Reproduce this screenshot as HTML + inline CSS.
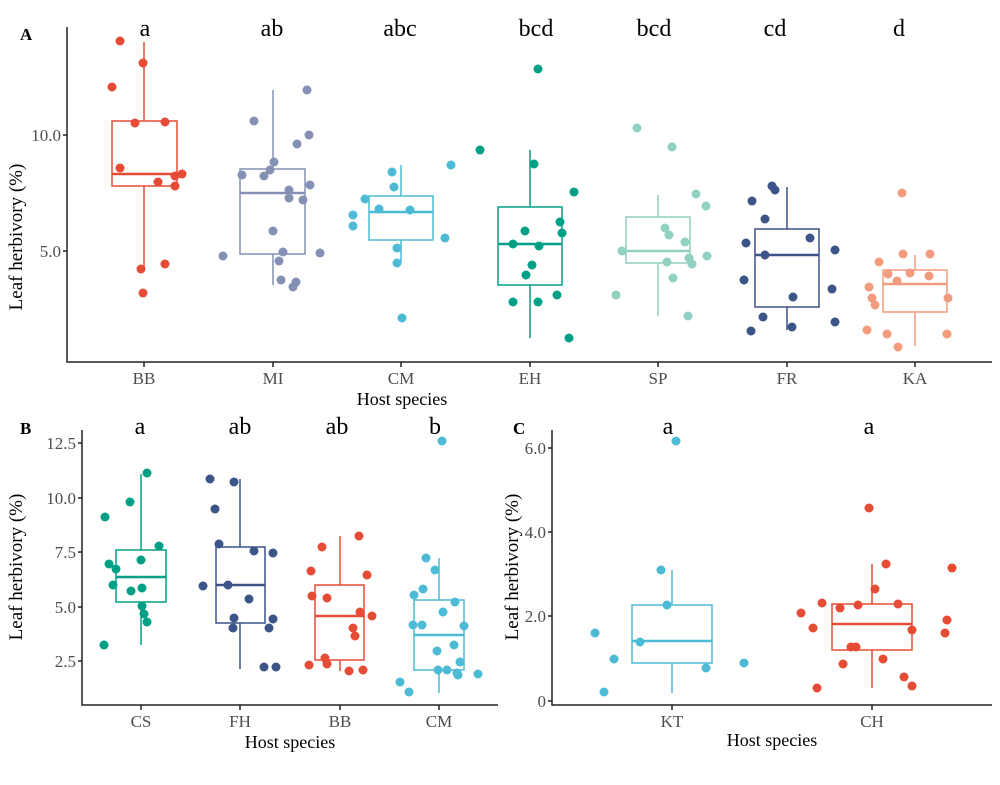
<!DOCTYPE html>
<html><head><meta charset="utf-8"><style>
html,body{margin:0;padding:0;background:#fff;}
svg{display:block;font-family:"Liberation Serif",serif;}
.t{fill:#4d4d4d;font-size:17px;}
.l{fill:#000;font-size:24px;text-anchor:middle;}
.ax{stroke:#222;stroke-width:1.5;fill:none;}
</style></head><body>
<svg width="1000" height="785" viewBox="0 0 1000 785" xmlns="http://www.w3.org/2000/svg">
<g id="A">
<path class="ax" d="M67,27V362H992"/>
<path class="ax" d="M63,135H67M63,251H67M144,362v5M273,362v5M401,362v5M530,362v5M658,362v5M787,362v5M915,362v5"/>
<text class="t" x="61" y="141" text-anchor="end">10.0</text>
<text class="t" x="61" y="257" text-anchor="end">5.0</text>
<g class="t" text-anchor="middle"><text x="144" y="384">BB</text><text x="273" y="384">MI</text><text x="401" y="384">CM</text><text x="530" y="384">EH</text><text x="658" y="384">SP</text><text x="787" y="384">FR</text><text x="915" y="384">KA</text></g>
<text x="402" y="405" font-size="18" text-anchor="middle">Host species</text>
<text transform="translate(22,237) rotate(-90)" font-size="19" text-anchor="middle">Leaf herbivory (%)</text>
<text x="20" y="40" font-size="17" font-weight="bold">A</text>
<g class="l"><text x="145" y="36">a</text><text x="272" y="36">ab</text><text x="400" y="36">abc</text><text x="536" y="36">bcd</text><text x="654" y="36">bcd</text><text x="775" y="36">cd</text><text x="899" y="36">d</text></g>
<!-- BB -->
<g stroke="#E64B35" fill="none" stroke-width="1.5"><path d="M144,42V121M144,186V270"/><rect x="112" y="121" width="65" height="65"/><path d="M112,174H177" stroke-width="2.5"/></g>
<g fill="#E64B35"><circle cx="120" cy="41" r="4.5"/><circle cx="112" cy="87" r="4.5"/><circle cx="143" cy="63" r="4.5"/><circle cx="135" cy="123" r="4.5"/><circle cx="165" cy="122" r="4.5"/><circle cx="120" cy="168" r="4.5"/><circle cx="158" cy="182" r="4.5"/><circle cx="175" cy="176" r="4.5"/><circle cx="182" cy="174" r="4.5"/><circle cx="175" cy="186" r="4.5"/><circle cx="141" cy="269" r="4.5"/><circle cx="165" cy="264" r="4.5"/><circle cx="143" cy="293" r="4.5"/></g>
<!-- MI -->
<g stroke="#8491B4" fill="none" stroke-width="1.5"><path d="M273,90V169M273,254V285"/><rect x="240" y="169" width="65" height="85"/><path d="M240,193H305" stroke-width="2.5"/></g>
<g fill="#8491B4"><circle cx="307" cy="90" r="4.5"/><circle cx="254" cy="121" r="4.5"/><circle cx="309" cy="135" r="4.5"/><circle cx="297" cy="144" r="4.5"/><circle cx="274" cy="162" r="4.5"/><circle cx="270" cy="170" r="4.5"/><circle cx="242" cy="175" r="4.5"/><circle cx="264" cy="176" r="4.5"/><circle cx="289" cy="190" r="4.5"/><circle cx="289" cy="198" r="4.5"/><circle cx="303" cy="200" r="4.5"/><circle cx="310" cy="185" r="4.5"/><circle cx="273" cy="231" r="4.5"/><circle cx="283" cy="252" r="4.5"/><circle cx="320" cy="253" r="4.5"/><circle cx="223" cy="256" r="4.5"/><circle cx="279" cy="261" r="4.5"/><circle cx="281" cy="280" r="4.5"/><circle cx="296" cy="282" r="4.5"/><circle cx="293" cy="287" r="4.5"/></g>
<!-- CM -->
<g stroke="#4DBBD5" fill="none" stroke-width="1.5"><path d="M401,165V196M401,240V262"/><rect x="369" y="196" width="64" height="44"/><path d="M369,212H433" stroke-width="2.5"/></g>
<g fill="#4DBBD5"><circle cx="392" cy="172" r="4.5"/><circle cx="394" cy="187" r="4.5"/><circle cx="365" cy="199" r="4.5"/><circle cx="353" cy="215" r="4.5"/><circle cx="353" cy="226" r="4.5"/><circle cx="379" cy="209" r="4.5"/><circle cx="410" cy="210" r="4.5"/><circle cx="445" cy="238" r="4.5"/><circle cx="397" cy="248" r="4.5"/><circle cx="397" cy="263" r="4.5"/><circle cx="402" cy="318" r="4.5"/><circle cx="451" cy="165" r="4.5"/></g>
<!-- EH -->
<g stroke="#00A087" fill="none" stroke-width="1.5"><path d="M530,150V207M530,285V338"/><rect x="498" y="207" width="64" height="78"/><path d="M498,244H562" stroke-width="2.5"/></g>
<g fill="#00A087"><circle cx="538" cy="69" r="4.5"/><circle cx="534" cy="164" r="4.5"/><circle cx="574" cy="192" r="4.5"/><circle cx="560" cy="222" r="4.5"/><circle cx="562" cy="233" r="4.5"/><circle cx="525" cy="231" r="4.5"/><circle cx="513" cy="244" r="4.5"/><circle cx="539" cy="246" r="4.5"/><circle cx="532" cy="265" r="4.5"/><circle cx="526" cy="275" r="4.5"/><circle cx="557" cy="295" r="4.5"/><circle cx="513" cy="302" r="4.5"/><circle cx="538" cy="302" r="4.5"/><circle cx="569" cy="338" r="4.5"/><circle cx="480" cy="150" r="4.5"/></g>
<!-- SP -->
<g stroke="#91D1C2" fill="none" stroke-width="1.5"><path d="M658,195V217M658,263V316"/><rect x="626" y="217" width="64" height="46"/><path d="M626,251H690" stroke-width="2.5"/></g>
<g fill="#91D1C2"><circle cx="637" cy="128" r="4.5"/><circle cx="672" cy="147" r="4.5"/><circle cx="696" cy="194" r="4.5"/><circle cx="706" cy="206" r="4.5"/><circle cx="665" cy="228" r="4.5"/><circle cx="669" cy="235" r="4.5"/><circle cx="685" cy="242" r="4.5"/><circle cx="622" cy="251" r="4.5"/><circle cx="689" cy="258" r="4.5"/><circle cx="692" cy="264" r="4.5"/><circle cx="707" cy="256" r="4.5"/><circle cx="667" cy="262" r="4.5"/><circle cx="673" cy="278" r="4.5"/><circle cx="616" cy="295" r="4.5"/><circle cx="688" cy="316" r="4.5"/></g>
<!-- FR -->
<g stroke="#3C5488" fill="none" stroke-width="1.5"><path d="M787,187V229M787,307V330"/><rect x="755" y="229" width="64" height="78"/><path d="M755,255H819" stroke-width="2.5"/></g>
<g fill="#3C5488"><circle cx="772" cy="186" r="4.5"/><circle cx="775" cy="190" r="4.5"/><circle cx="752" cy="201" r="4.5"/><circle cx="765" cy="219" r="4.5"/><circle cx="810" cy="238" r="4.5"/><circle cx="746" cy="243" r="4.5"/><circle cx="765" cy="255" r="4.5"/><circle cx="835" cy="250" r="4.5"/><circle cx="744" cy="280" r="4.5"/><circle cx="832" cy="289" r="4.5"/><circle cx="793" cy="297" r="4.5"/><circle cx="763" cy="317" r="4.5"/><circle cx="751" cy="331" r="4.5"/><circle cx="792" cy="327" r="4.5"/><circle cx="835" cy="322" r="4.5"/></g>
<!-- KA -->
<g stroke="#F39B7F" fill="none" stroke-width="1.5"><path d="M915,255V270M915,312V346"/><rect x="883" y="270" width="64" height="42"/><path d="M883,284H947" stroke-width="2.5"/></g>
<g fill="#F39B7F"><circle cx="902" cy="193" r="4.5"/><circle cx="903" cy="254" r="4.5"/><circle cx="930" cy="254" r="4.5"/><circle cx="879" cy="262" r="4.5"/><circle cx="888" cy="274" r="4.5"/><circle cx="910" cy="273" r="4.5"/><circle cx="897" cy="281" r="4.5"/><circle cx="929" cy="276" r="4.5"/><circle cx="869" cy="287" r="4.5"/><circle cx="872" cy="298" r="4.5"/><circle cx="875" cy="305" r="4.5"/><circle cx="948" cy="298" r="4.5"/><circle cx="867" cy="330" r="4.5"/><circle cx="887" cy="334" r="4.5"/><circle cx="947" cy="334" r="4.5"/><circle cx="898" cy="347" r="4.5"/></g>
</g>

<g id="B">
<path class="ax" d="M82,430V705H498"/>
<path class="ax" d="M78,443H82M78,498H82M78,552H82M78,607H82M78,661H82M141,705v5M240,705v5M340,705v5M439,705v5"/>
<g class="t" text-anchor="end"><text x="76" y="449">12.5</text><text x="76" y="504">10.0</text><text x="76" y="558">7.5</text><text x="76" y="613">5.0</text><text x="76" y="667">2.5</text></g>
<g class="t" text-anchor="middle"><text x="141" y="727">CS</text><text x="240" y="727">FH</text><text x="340" y="727">BB</text><text x="439" y="727">CM</text></g>
<text x="290" y="748" font-size="18" text-anchor="middle">Host species</text>
<text transform="translate(22,567) rotate(-90)" font-size="19" text-anchor="middle">Leaf herbivory (%)</text>
<text x="20" y="434" font-size="17" font-weight="bold">B</text>
<g class="l"><text x="140" y="434">a</text><text x="240" y="434">ab</text><text x="337" y="434">ab</text><text x="435" y="434">b</text></g>
<g stroke="#00A087" fill="none" stroke-width="1.5"><path d="M141,474V550M141,602V645"/><rect x="116" y="550" width="50" height="52"/><path d="M116,577H166" stroke-width="2.5"/></g>
<g fill="#00A087"><circle cx="147" cy="473" r="4.5"/><circle cx="130" cy="502" r="4.5"/><circle cx="105" cy="517" r="4.5"/><circle cx="109" cy="564" r="4.5"/><circle cx="116" cy="569" r="4.5"/><circle cx="159" cy="546" r="4.5"/><circle cx="141" cy="560" r="4.5"/><circle cx="113" cy="585" r="4.5"/><circle cx="131" cy="591" r="4.5"/><circle cx="142" cy="588" r="4.5"/><circle cx="142" cy="606" r="4.5"/><circle cx="144" cy="614" r="4.5"/><circle cx="147" cy="622" r="4.5"/><circle cx="104" cy="645" r="4.5"/></g>
<g stroke="#3C5488" fill="none" stroke-width="1.5"><path d="M240,479V547M240,623V669"/><rect x="216" y="547" width="49" height="76"/><path d="M216,585H265" stroke-width="2.5"/></g>
<g fill="#3C5488"><circle cx="210" cy="479" r="4.5"/><circle cx="234" cy="482" r="4.5"/><circle cx="215" cy="509" r="4.5"/><circle cx="219" cy="544" r="4.5"/><circle cx="254" cy="551" r="4.5"/><circle cx="273" cy="553" r="4.5"/><circle cx="203" cy="586" r="4.5"/><circle cx="228" cy="585" r="4.5"/><circle cx="249" cy="599" r="4.5"/><circle cx="234" cy="618" r="4.5"/><circle cx="273" cy="619" r="4.5"/><circle cx="233" cy="628" r="4.5"/><circle cx="269" cy="628" r="4.5"/><circle cx="264" cy="667" r="4.5"/><circle cx="276" cy="667" r="4.5"/></g>
<g stroke="#E64B35" fill="none" stroke-width="1.5"><path d="M340,536V585M340,660V671"/><rect x="315" y="585" width="49" height="75"/><path d="M315,616H364" stroke-width="2.5"/></g>
<g fill="#E64B35"><circle cx="359" cy="536" r="4.5"/><circle cx="322" cy="547" r="4.5"/><circle cx="311" cy="571" r="4.5"/><circle cx="367" cy="575" r="4.5"/><circle cx="312" cy="596" r="4.5"/><circle cx="327" cy="598" r="4.5"/><circle cx="360" cy="612" r="4.5"/><circle cx="372" cy="616" r="4.5"/><circle cx="353" cy="628" r="4.5"/><circle cx="355" cy="636" r="4.5"/><circle cx="325" cy="658" r="4.5"/><circle cx="327" cy="664" r="4.5"/><circle cx="309" cy="665" r="4.5"/><circle cx="349" cy="671" r="4.5"/><circle cx="363" cy="670" r="4.5"/></g>
<g stroke="#4DBBD5" fill="none" stroke-width="1.5"><path d="M439,558V600M439,670V693"/><rect x="414" y="600" width="50" height="70"/><path d="M414,635H464" stroke-width="2.5"/></g>
<g fill="#4DBBD5"><circle cx="442" cy="441" r="4.5"/><circle cx="426" cy="558" r="4.5"/><circle cx="435" cy="570" r="4.5"/><circle cx="423" cy="589" r="4.5"/><circle cx="414" cy="595" r="4.5"/><circle cx="455" cy="602" r="4.5"/><circle cx="443" cy="612" r="4.5"/><circle cx="413" cy="625" r="4.5"/><circle cx="422" cy="625" r="4.5"/><circle cx="464" cy="626" r="4.5"/><circle cx="437" cy="651" r="4.5"/><circle cx="454" cy="645" r="4.5"/><circle cx="460" cy="662" r="4.5"/><circle cx="438" cy="670" r="4.5"/><circle cx="447" cy="670" r="4.5"/><circle cx="457" cy="673" r="4.5"/><circle cx="458" cy="675" r="4.5"/><circle cx="478" cy="674" r="4.5"/><circle cx="400" cy="682" r="4.5"/><circle cx="409" cy="692" r="4.5"/></g>
</g>

<g id="C">
<path class="ax" d="M552,430V705H992"/>
<path class="ax" d="M548,448H552M548,532H552M548,616H552M548,701H552M672,705v5M872,705v5"/>
<g class="t" text-anchor="end"><text x="546" y="454">6.0</text><text x="546" y="538">4.0</text><text x="546" y="622">2.0</text><text x="546" y="707">0</text></g>
<g class="t" text-anchor="middle"><text x="672" y="727">KT</text><text x="872" y="727">CH</text></g>
<text x="772" y="746" font-size="18" text-anchor="middle">Host species</text>
<text transform="translate(518,567) rotate(-90)" font-size="19" text-anchor="middle">Leaf herbivory  (%)</text>
<text x="513" y="434" font-size="17" font-weight="bold">C</text>
<g class="l"><text x="668" y="434">a</text><text x="869" y="434">a</text></g>
<g stroke="#4DBBD5" fill="none" stroke-width="1.5"><path d="M672,570V605M672,663V693"/><rect x="632" y="605" width="80" height="58"/><path d="M632,641H712" stroke-width="2.5"/></g>
<g fill="#4DBBD5"><circle cx="676" cy="441" r="4.5"/><circle cx="661" cy="570" r="4.5"/><circle cx="667" cy="605" r="4.5"/><circle cx="640" cy="642" r="4.5"/><circle cx="595" cy="633" r="4.5"/><circle cx="614" cy="659" r="4.5"/><circle cx="604" cy="692" r="4.5"/><circle cx="706" cy="668" r="4.5"/><circle cx="744" cy="663" r="4.5"/></g>
<g stroke="#E64B35" fill="none" stroke-width="1.5"><path d="M872,564V604M872,650V688"/><rect x="832" y="604" width="80" height="46"/><path d="M832,624H912" stroke-width="2.5"/></g>
<g fill="#E64B35"><circle cx="869" cy="508" r="4.5"/><circle cx="886" cy="564" r="4.5"/><circle cx="952" cy="568" r="4.5"/><circle cx="875" cy="589" r="4.5"/><circle cx="822" cy="603" r="4.5"/><circle cx="801" cy="613" r="4.5"/><circle cx="840" cy="608" r="4.5"/><circle cx="858" cy="605" r="4.5"/><circle cx="898" cy="604" r="4.5"/><circle cx="813" cy="628" r="4.5"/><circle cx="912" cy="630" r="4.5"/><circle cx="947" cy="620" r="4.5"/><circle cx="945" cy="633" r="4.5"/><circle cx="851" cy="647" r="4.5"/><circle cx="856" cy="647" r="4.5"/><circle cx="883" cy="659" r="4.5"/><circle cx="843" cy="664" r="4.5"/><circle cx="904" cy="677" r="4.5"/><circle cx="912" cy="686" r="4.5"/><circle cx="817" cy="688" r="4.5"/></g>
</g>
</svg>
</body></html>
